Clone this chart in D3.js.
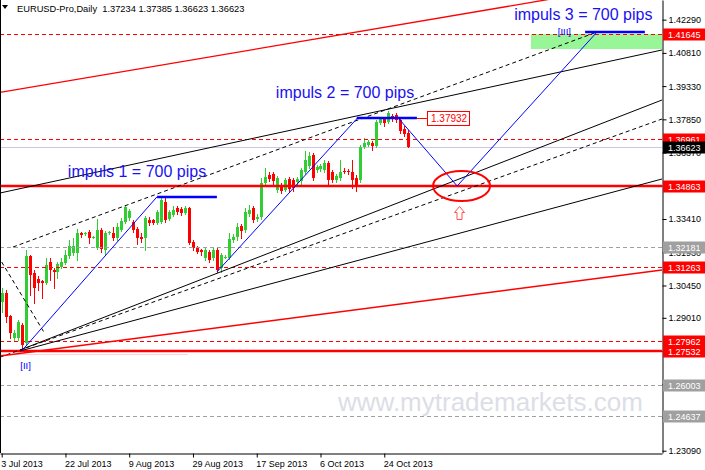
<!DOCTYPE html>
<html><head><meta charset="utf-8">
<script src="https://cdn.jsdelivr.net/npm/d3@7"></script>
<style>
html,body{margin:0;padding:0;background:#fff;}
svg{display:block;font-family:"Liberation Sans",Arial,sans-serif;}
</style></head><body>
<svg id="c" width="705" height="470"></svg>
<script>
// ---------- DATA ----------
const symbolTitle = "EURUSD-Pro,Daily";
const lastOHLC = ["1.37234","1.37385","1.36623","1.36623"];
const dateTickIndex = [0,16,32,48,64,80,96];
const dateTickLabels = ["3 Jul 2013","22 Jul 2013","9 Aug 2013","29 Aug 2013","17 Sep 2013","6 Oct 2013","24 Oct 2013"];
const priceTicks = [1.42290,1.40810,1.39330,1.37850,1.36370,1.34890,1.33410,1.31930,1.30450,1.29010,1.27530,1.26050,1.24570,1.23090];

const open = [1.29714,1.30115,1.29091,1.28111,1.28111,1.28689,1.27888,1.31762,1.31005,1.30738,
1.30649,1.30560,1.31495,1.31139,1.31050,1.31272,1.31450,1.31762,1.31896,1.31896,
1.32787,1.32742,1.32831,1.32564,1.32119,1.32921,1.32030,1.32787,1.32787,1.32564,
1.32921,1.33277,1.33455,1.33277,1.32965,1.32609,1.32564,1.33366,1.33366,1.33232,
1.33277,1.34168,1.33411,1.33589,1.33901,1.33856,1.33678,1.33901,1.32386,1.32119,
1.32030,1.31673,1.31940,1.31673,1.32030,1.31228,1.31673,1.31673,1.32475,1.32609,
1.33099,1.32921,1.33633,1.33901,1.33411,1.33500,1.35014,1.35371,1.35415,1.34703,
1.34925,1.34703,1.35193,1.35148,1.35059,1.35103,1.35504,1.35772,1.36262,1.35594,
1.35638,1.35594,1.35905,1.35504,1.35148,1.35237,1.35549,1.35549,1.35504,1.35237,
1.35148,1.36618,1.36707,1.36796,1.36663,1.37687,1.37910,1.37732,1.37999,1.38044,
1.37821,1.37420,1.37234];
const high = [1.30337,1.30249,1.29135,1.28467,1.28912,1.28778,1.32030,1.31807,1.31139,1.30871,
1.30693,1.31673,1.31673,1.31228,1.31495,1.31673,1.32030,1.32475,1.32564,1.32965,
1.32831,1.32831,1.32921,1.32653,1.33411,1.33010,1.32876,1.32876,1.33054,1.33232,
1.33455,1.34034,1.33856,1.33366,1.33054,1.32787,1.33544,1.33500,1.33411,1.33812,
1.34435,1.34346,1.33812,1.33990,1.33990,1.33945,1.33990,1.33945,1.32475,1.32208,
1.32074,1.32119,1.32030,1.32119,1.32119,1.31896,1.31807,1.32787,1.32742,1.33232,
1.33188,1.33901,1.34034,1.33990,1.33633,1.35237,1.35683,1.35504,1.35504,1.35326,
1.35014,1.35237,1.35282,1.35237,1.35282,1.35683,1.36440,1.36396,1.36351,1.35816,
1.35861,1.36039,1.35994,1.35594,1.35415,1.36039,1.35683,1.35638,1.36039,1.35371,
1.36707,1.37019,1.36930,1.36885,1.37821,1.37955,1.37955,1.38222,1.38088,1.38133,
1.37910,1.37554,1.37385];
const low = [1.29269,1.28823,1.28111,1.28021,1.28021,1.27532,1.27799,1.30026,1.29670,1.30249,
1.29892,1.30515,1.30693,1.30337,1.30782,1.31228,1.31406,1.31673,1.31807,1.31584,
1.32609,1.32698,1.32341,1.32564,1.32074,1.31940,1.31807,1.32742,1.32475,1.32475,
1.32876,1.33232,1.33366,1.32831,1.32297,1.32386,1.32030,1.33143,1.33188,1.33188,
1.33232,1.33277,1.33366,1.33544,1.33633,1.33589,1.33633,1.32297,1.32030,1.31896,
1.31807,1.31584,1.31495,1.31584,1.31050,1.31050,1.31673,1.31629,1.32386,1.32475,
1.32564,1.32831,1.33544,1.33277,1.33321,1.33411,1.34925,1.35103,1.34970,1.34613,
1.34569,1.34658,1.34613,1.34658,1.34970,1.34970,1.35415,1.35683,1.35148,1.35504,
1.35549,1.35504,1.34881,1.35059,1.35059,1.35148,1.35460,1.35415,1.34792,1.34658,
1.35059,1.36573,1.36663,1.36485,1.36618,1.37643,1.37554,1.37687,1.37777,1.37732,
1.37242,1.37108,1.36623];
const close = [1.30115,1.29046,1.28333,1.28333,1.28823,1.27799,1.31762,1.30916,1.30337,1.30560,
1.30560,1.31361,1.31139,1.31050,1.31406,1.31495,1.31807,1.32208,1.32208,1.32787,
1.32698,1.32787,1.32564,1.32609,1.32921,1.32074,1.32787,1.32831,1.32564,1.33054,
1.33321,1.33945,1.33767,1.32921,1.32564,1.32520,1.33455,1.33232,1.33232,1.33722,
1.34257,1.33366,1.33722,1.33812,1.33722,1.33678,1.33901,1.32341,1.32119,1.31940,
1.31940,1.32030,1.31584,1.32030,1.31139,1.31807,1.31718,1.32520,1.32609,1.33054,
1.32876,1.33722,1.33812,1.33366,1.33500,1.35014,1.35282,1.35193,1.35103,1.35237,
1.34658,1.35148,1.34747,1.34792,1.35193,1.35594,1.36039,1.36217,1.35237,1.35727,
1.35772,1.35905,1.35148,1.35148,1.35326,1.35504,1.35504,1.35504,1.35148,1.34881,
1.36618,1.36796,1.36841,1.36663,1.37732,1.37866,1.37687,1.38133,1.37910,1.37821,
1.37331,1.37197,1.36623];

// horizontal levels
const redDashLevels = [1.41645,1.36961,1.31263,1.27962];
const redSolidLevels = [1.34863,1.27532];
const grayDashLevels = [1.32181,1.26003,1.24637];
const bidPrice = 1.36623;
const redMarkers = [1.41645,1.36961,1.34863,1.31263,1.27962,1.27532];
const grayMarkers = [1.32181,1.26003,1.24637];

// trend lines [barIndex, price]
const blackSolidLines = [
  [[-0.43,1.34569],[165.7,1.40939]],
  [[4.6,1.27532],[165.7,1.35193]],
  [[4.6,1.27575],[165.7,1.38712]]
];
const blackDashLines = [
  [[2.84,1.32163],[149.4,1.41741]],
  [[-0.43,1.27255],[165.7,1.37866]],
  [[0,1.31495],[10.87,1.28289]]
];
const redLines = [
  [[-0.43,1.39048],[165.7,1.44048]],
  [[-0.43,1.27309],[165.7,1.31139]]
];
const pinkLine = [[-0.43,1.27442],[46.7,1.27442]];
const bluePaths = [
  [[5,1.27532],[39,1.34404]],
  [[54,1.31050],[89.4,1.37932]],
  [[99.4,1.37932],[114.3,1.34881],[149.4,1.41741]]
];
const blueTargets = [[39,54,1.34404],[89.1,104.2,1.37932],[146.4,161.4,1.41741]];
const targetZone = {i0:132.8, i1:170, p0:1.41645, p1:1.40983};
const priceTag = {i:106.7, p:1.37932, from:104.2, label:"1.37932"};
const impulseLabels = [
  {t:"impuls 1 = 700 pips", i:16.6, p:1.35282},
  {t:"impuls 2 = 700 pips", i:68.8, p:1.38801},
  {t:"impuls 3 = 700 pips", i:128.6, p:1.42297}
];
const waveLabels = [{t:"[II]", i:6.0, p:1.26730},{t:"[III]", i:141.2, p:1.41607}];
const circleMark = {i:115.4, p:1.34881, di:7.15, dp:0.00668};
const arrowMark = {i:114.8, p:1.33678};

// ---------- CHART ----------
const PR = 662, PB = 453;
const x = d3.scaleLinear().domain([-0.4266,165.7]).range([0,PR]);
const y = d3.scaleLinear().domain([1.22988,1.43166]).range([PB,0]);
const svg = d3.select('#c');
svg.append('rect').attr('width',705).attr('height',470).attr('fill','#fff');
svg.append('defs').append('clipPath').attr('id','clip')
  .append('rect').attr('x',0).attr('y',0).attr('width',PR).attr('height',PB);
const g = svg.append('g').attr('clip-path','url(#clip)');
const line = d3.line().x(d=>x(d[0])).y(d=>y(d[1]));
const ry = p => Math.round(y(p));

// target zone
g.append('rect').attr('x',x(targetZone.i0)).attr('y',y(targetZone.p0))
 .attr('width',x(targetZone.i1)-x(targetZone.i0)).attr('height',y(targetZone.p1)-y(targetZone.p0))
 .attr('fill','#98f598');

// bid line
g.append('line').attr('x1',0).attr('x2',PR).attr('y1',ry(bidPrice)+0.5).attr('y2',ry(bidPrice)+0.5)
 .attr('stroke','#c8c8ec').attr('stroke-width',1);

// candles
const idx = d3.range(open.length);
const cg = g.append('g');
idx.forEach(i=>{
  const xc = Math.round(x(i));
  const up = close[i] >= open[i];
  const col = up ? '#32cd32' : '#ff0000';
  cg.append('line').attr('x1',xc+0.5).attr('x2',xc+0.5)
    .attr('y1',Math.round(y(high[i]))).attr('y2',Math.round(y(low[i]))+1)
    .attr('stroke',col).attr('stroke-width',1);
  const t = Math.round(y(Math.max(open[i],close[i])));
  const b = Math.round(y(Math.min(open[i],close[i])));
  cg.append('rect').attr('x',xc-1).attr('y',t).attr('width',3).attr('height',Math.max(1,b-t))
    .attr('fill',col);
});

// horizontal levels
grayDashLevels.forEach(p=>g.append('line').attr('x1',0).attr('x2',PR).attr('y1',ry(p)+0.5).attr('y2',ry(p)+0.5)
  .attr('stroke','#a0a0a0').attr('stroke-dasharray','4,3'));
redDashLevels.forEach(p=>g.append('line').attr('x1',0).attr('x2',PR).attr('y1',ry(p)+0.5).attr('y2',ry(p)+0.5)
  .attr('stroke','#ff0000').attr('stroke-dasharray','4,3'));
g.append('line').attr('x1',x(pinkLine[0][0])).attr('x2',x(pinkLine[1][0]))
  .attr('y1',ry(pinkLine[0][1])+1.5).attr('y2',ry(pinkLine[1][1])+1.5)
  .attr('stroke','#ffd2da').attr('stroke-width',1);
redSolidLevels.forEach(p=>g.append('line').attr('x1',0).attr('x2',PR).attr('y1',ry(p)).attr('y2',ry(p))
  .attr('stroke','#ff0000').attr('stroke-width',2.5));

// trend lines
blackSolidLines.forEach(l=>g.append('path').attr('d',line(l)).attr('stroke','#000').attr('stroke-width',1).attr('fill','none'));
blackDashLines.forEach(l=>g.append('path').attr('d',line(l)).attr('stroke','#000').attr('stroke-width',1)
  .attr('stroke-dasharray','4,3').attr('fill','none'));
redLines.forEach(l=>g.append('path').attr('d',line(l)).attr('stroke','#ff0000').attr('stroke-width',1.3).attr('fill','none'));

// blue impulse lines
bluePaths.forEach(l=>g.append('path').attr('d',line(l)).attr('stroke','#0000ff').attr('stroke-width',1).attr('fill','none'));
blueTargets.forEach(t=>g.append('line').attr('x1',x(t[0])).attr('x2',x(t[1])).attr('y1',ry(t[2])).attr('y2',ry(t[2]))
  .attr('stroke','#0000ff').attr('stroke-width',2.5));

// price tag
g.append('line').attr('x1',x(priceTag.from)).attr('x2',x(priceTag.i)).attr('y1',ry(priceTag.p)+0.5).attr('y2',ry(priceTag.p)+0.5)
  .attr('stroke','#ff0000');
g.append('rect').attr('x',Math.round(x(priceTag.i))+0.5).attr('y',ry(priceTag.p)-6.5).attr('width',42).attr('height',14)
  .attr('fill','#fff').attr('stroke','#ff0000');
g.append('text').attr('x',Math.round(x(priceTag.i))+4).attr('y',ry(priceTag.p)+4)
  .attr('font-size',10).attr('fill','#ff0000').text(priceTag.label);

// ellipse + arrow
g.append('ellipse').attr('cx',x(circleMark.i)).attr('cy',y(circleMark.p))
  .attr('rx',x(circleMark.i+circleMark.di)-x(circleMark.i)).attr('ry',y(circleMark.p-circleMark.dp)-y(circleMark.p))
  .attr('fill','none').attr('stroke','#ff0000').attr('stroke-width',2);
const ax0 = Math.round(x(arrowMark.i))+0.5, ay0 = Math.round(y(arrowMark.p))+0.5;
g.append('path').attr('d',`M${ax0},${ay0-7}L${ax0+5},${ay0-1}L${ax0+2.5},${ay0-1}L${ax0+2.5},${ay0+6}L${ax0-2.5},${ay0+6}L${ax0-2.5},${ay0-1}L${ax0-5},${ay0-1}Z`)
  .attr('fill','#fff').attr('stroke','#ff5050').attr('stroke-width',1);

// texts
impulseLabels.forEach(d=>g.append('text').attr('x',x(d.i)).attr('y',y(d.p)).attr('font-size',16)
  .attr('fill','#1a10f0').text(d.t));
waveLabels.forEach(d=>g.append('text').attr('x',x(d.i)).attr('y',y(d.p)).attr('text-anchor','middle')
  .attr('font-size',9.5).attr('fill','#0000ff').text(d.t));

// watermark
svg.append('text').attr('x',338).attr('y',411).attr('font-size',26).attr('fill','#dcdee6').text('www.mytrademarkets.com');

// frame
svg.append('line').attr('x1',0.5).attr('x2',0.5).attr('y1',0).attr('y2',PB).attr('stroke','#000');

// right axis
const axR = d3.axisRight(y).tickValues(priceTicks).tickFormat(d3.format('.5f')).tickSize(4).tickSizeOuter(0).tickPadding(2);
const gR = svg.append('g').attr('transform',`translate(${PR+0.5},0)`).call(axR);
gR.select('.domain').attr('stroke','#000');
gR.selectAll('text').attr('font-size',9).attr('fill','#000').attr('font-family','"Liberation Sans",Arial,sans-serif');

function marker(p, fill){
  const yy = ry(p);
  svg.append('rect').attr('x',PR+1).attr('y',yy-5.5).attr('width',705-PR-1).attr('height',12).attr('fill',fill);
  svg.append('text').attr('x',PR+6).attr('y',yy+4).attr('font-size',9).attr('fill','#fff').text(d3.format('.5f')(p));
}
grayMarkers.forEach(p=>marker(p,'#a0a0a0'));
redMarkers.forEach(p=>marker(p,'#ff0000'));
marker(bidPrice,'#000');

// bottom axis
const axB = d3.axisBottom(x).tickValues(dateTickIndex).tickFormat((d,i)=>dateTickLabels[i]).tickSize(4).tickSizeOuter(0);
const gB = svg.append('g').attr('transform',`translate(0,${PB+0.5})`).call(axB);
gB.select('.domain').attr('stroke','#000');
gB.selectAll('text').attr('font-size',9).attr('fill','#000').attr('text-anchor','start').attr('dx',-1)
  .attr('font-family','"Liberation Sans",Arial,sans-serif');

// header
svg.append('path').attr('d','M2,5L8,5L5,9Z').attr('fill','#000');
svg.append('text').attr('x',17).attr('y',11.5).attr('font-size',9.3).attr('fill','#000')
  .text(symbolTitle + '\u00a0\u00a0' + lastOHLC.join('\u00a0'));
</script>
</body></html>
